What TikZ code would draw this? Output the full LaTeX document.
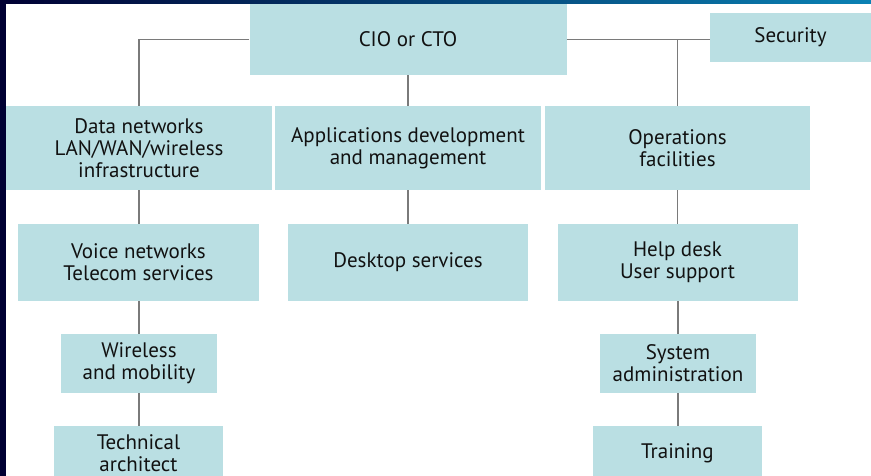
\documentclass[tikz,border=0pt]{standalone}
\usepackage{fontspec}
\setmainfont{PT Sans}
\definecolor{boxfill}{HTML}{BADFE3}
\definecolor{linegray}{HTML}{7A7A7A}
\definecolor{navy}{HTML}{000033}
\definecolor{topblue}{HTML}{0A82B4}
\definecolor{txt}{HTML}{111111}
\tikzset{
  orgbox/.style={fill=boxfill, inner sep=0pt, align=center, text=txt,
    font=\fontsize{21}{21.8}\selectfont},
  link/.style={draw=linegray, line width=1.3pt}
}
\begin{document}
\begin{tikzpicture}[x=1pt,y=-1pt]
\useasboundingbox (0,0) rectangle (871,476);
% frame
\fill[navy] (0,0) rectangle (871,476);
\shade[left color=navy, right color=topblue] (0,0) rectangle (871,4);
\fill[white] (6,4) rectangle (871,476);
% boxes
\node[orgbox, minimum width=317pt, minimum height=71pt] (cio) at (408,39.5) {CIO or CTO};
\node[orgbox, minimum width=161pt, minimum height=49pt] (sec) at (790.5,37.5) {Security};
\node[orgbox, minimum width=266pt, minimum height=84pt] (data) at (139,148) {Data networks\\LAN/WAN/wireless\\infrastructure};
\node[orgbox, minimum width=266pt, minimum height=84pt] (apps) at (408,148) {Applications development\\and management};
\node[orgbox, minimum width=265pt, minimum height=84pt] (ops) at (677.5,148) {Operations\\facilities};
\node[orgbox, minimum width=241pt, minimum height=77pt] (voice) at (138.5,262.5) {Voice networks\\Telecom services};
\node[orgbox, minimum width=240pt, minimum height=77pt] (desk) at (408,262.5) {Desktop services};
\node[orgbox, minimum width=240pt, minimum height=77pt] (help) at (677.5,262.5) {Help desk\\User support};
\node[orgbox, minimum width=156pt, minimum height=59pt] (wire) at (139,363.5) {Wireless\\and mobility};
\node[orgbox, minimum width=156pt, minimum height=59pt] (sys) at (678,363.5) {System\\administration};
\node[orgbox, minimum width=169pt, minimum height=54pt] (tech) at (138.5,453) {Technical\\architect};
\node[orgbox, minimum width=169pt, minimum height=54pt] (train) at (677.5,453) {Training};
% connectors
\coordinate (j) at (ops.north |- cio.east);
\draw[link] (cio.west) -| (data.north);
\draw[link] (cio.east) -- (cio.east -| sec.west);
\draw[link] (j) -- (ops.north);
\draw[link] (cio.south) -- (apps.north);
\draw[link] (apps.south) -- (desk.north);
\draw[link] (data.south) -- (data.south |- voice.north);
\draw[link] (voice.south -| wire.north) -- (wire.north);
\draw[link] (wire.south) -- (wire.south |- tech.north);
\draw[link] (ops.south) -- (ops.south |- help.north);
\draw[link] (help.south -| sys.north) -- (sys.north);
\draw[link] (sys.south) -- (sys.south |- train.north);
\end{tikzpicture}
\end{document}
